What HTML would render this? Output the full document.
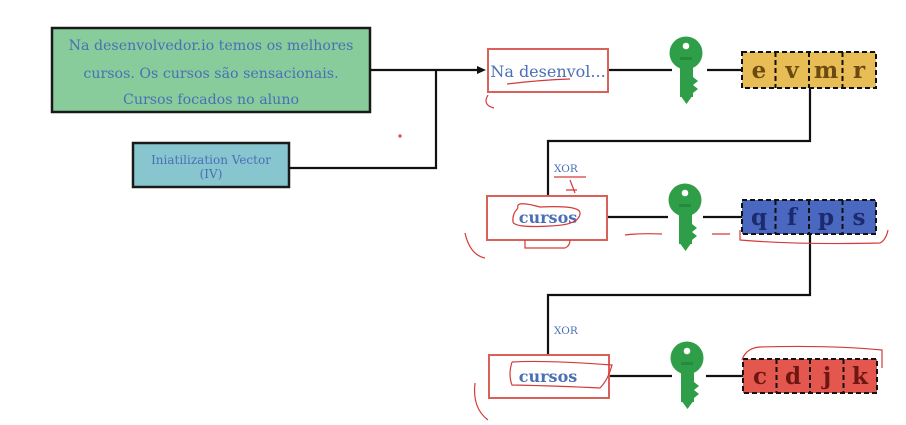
<!DOCTYPE html>
<html><head><meta charset="utf-8"><style>
body{margin:0;background:#fff;}
svg{display:block}
text{font-family:"DejaVu Serif","Liberation Serif",serif;}
</style></head><body>
<svg width="906" height="425" viewBox="0 0 906 425" xmlns="http://www.w3.org/2000/svg">
<defs>
<g id="key">
<circle cx="15" cy="16" r="16.5" fill="#2f9e48"/>
<rect x="9" y="28" width="13" height="32" fill="#2f9e48"/>
<path d="M9 58 L15.5 67 L22 58Z" fill="#2f9e48"/>
<path d="M22 40 L27 44 L22 48 L27 52 L22 56Z" fill="#2f9e48"/>
<circle cx="15" cy="9" r="3.3" fill="#fff"/>
<rect x="9" y="20" width="12" height="3" fill="#268a3c"/>
</g>
</defs>
<rect x="52" y="28" width="318" height="84" fill="#88cc9c" stroke="#1a1a1a" stroke-width="2.5"/>
<g font-size="14.2" fill="#4a6fb5" text-anchor="middle">
<text x="211" y="50">Na desenvolvedor.io temos os melhores</text>
<text x="211" y="78">cursos. Os cursos são sensacionais.</text>
<text x="211" y="104">Cursos focados no aluno</text>
</g>
<rect x="133" y="143" width="156" height="44" fill="#88c6cf" stroke="#1a1a1a" stroke-width="2.5"/>
<text x="211" y="164" font-size="12" fill="#4a6fb5" text-anchor="middle">Iniatilization Vector</text>
<text x="211" y="178" font-size="12" fill="#4a6fb5" text-anchor="middle">(IV)</text>
<g stroke="#111" stroke-width="2.2" fill="none">
<path d="M370 70 H478"/>
<path d="M289 168 H436 V70"/>
<path d="M608 70 H672"/><path d="M707 70 H742"/>
<path d="M810 88 V141 H548 V196"/>
<path d="M607 217 H668"/><path d="M703 217 H742"/>
<path d="M810 234 V295 H548 V355"/>
<path d="M609 376 H672"/><path d="M706 376 H743"/>
</g>
<path d="M486 70 L477 66 L477 74Z" fill="#111"/>
<g fill="#fff" stroke="#d9615a" stroke-width="2">
<rect x="488" y="49" width="120" height="43"/>
<rect x="487" y="196" width="120" height="44"/>
<rect x="489" y="355" width="120" height="43"/>
</g>
<text x="548" y="77" font-size="16" fill="#4a6fb5" text-anchor="middle">Na desenvol...</text>
<text x="548" y="223" font-size="16" fill="#4a6fb5" text-anchor="middle" font-weight="600">cursos</text>
<text x="548" y="382" font-size="16" fill="#4a6fb5" text-anchor="middle" font-weight="600">cursos</text>
<text x="554" y="172" font-size="10.5" fill="#4a6fb5">XOR</text>
<text x="554" y="334" font-size="10.5" fill="#4a6fb5">XOR</text>
<use href="#key" x="671" y="37"/>
<use href="#key" x="670" y="184"/>
<use href="#key" x="672" y="342"/>
<g stroke="#111" stroke-width="2" stroke-dasharray="5,3">
<rect x="742" y="52" width="134" height="36" fill="#e8bd55"/>
<path d="M775.5 52V88M809 52V88M842.5 52V88"/>
<rect x="742" y="200" width="134" height="34" fill="#4a68c0"/>
<path d="M775.5 200V234M809 200V234M842.5 200V234"/>
<rect x="743" y="359" width="134" height="34" fill="#e4574f"/>
<path d="M776.5 359V393M810 359V393M843.5 359V393"/>
</g>
<g font-size="23" text-anchor="middle" font-weight="600">
<g fill="#6b4a10"><text x="759" y="78">e</text><text x="792" y="78">v</text><text x="826" y="78">m</text><text x="859" y="78">r</text></g>
<g fill="#1c2a6e"><text x="759" y="225">q</text><text x="792" y="225">f</text><text x="826" y="225">p</text><text x="859" y="225">s</text></g>
<g fill="#6e1612"><text x="760" y="384">c</text><text x="793" y="384">d</text><text x="827" y="384">j</text><text x="860" y="384">k</text></g>
</g>
<g stroke="#d43a3a" stroke-width="1.2" fill="none">
<path d="M507 84 Q540 80 570 79"/>
<path d="M488 95 Q482 105 494 108"/>
<circle cx="400" cy="136" r="1" />
<path d="M554 177 H586"/><path d="M570 180 L575 193 M566 190 L577 190"/>
<path d="M518 208 Q515 200 540 207 Q580 205 580 213 Q580 225 550 226 Q515 228 513 222 Q512 214 518 208"/>
<path d="M525 240 V248 H565 Q570 246 570 240"/>
<path d="M465 233 Q470 255 485 258"/>
<path d="M625 235 Q640 233 662 234"/><path d="M712 234 H730"/>
<path d="M740 230 V240 Q800 245 880 243 Q886 240 888 230"/>
<path d="M512 362 Q545 360 612 365 Q608 380 600 388 Q560 386 512 385 Q508 375 512 362"/>
<path d="M475 383 Q472 408 488 420"/>
<path d="M742 360 Q746 348 760 347 Q830 345 882 350 V368"/>
</g>
</svg>
</body></html>
